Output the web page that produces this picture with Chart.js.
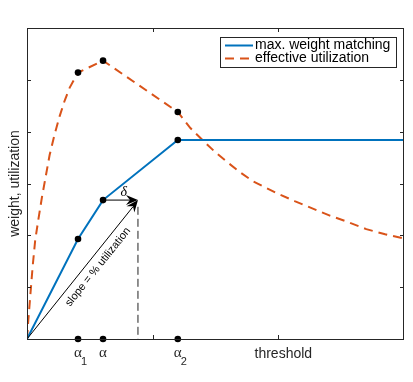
<!DOCTYPE html>
<html>
<head>
<meta charset="utf-8">
<script src="https://cdn.jsdelivr.net/npm/chart.js@4"></script>
<style>
  html, body { margin: 0; padding: 0; background: #fff; }
  #wrap { width: 413px; height: 382px; }
</style>
</head>
<body>
<div id="wrap"><canvas id="grafico" width="413" height="382"></canvas></div>
<script>
// Datos
const matchX = [0, 0.406, 0.605, 1.2, 3.0];
const matchY = [0, 1.93, 2.68, 3.84, 3.84];

const effX = [0, 0.01, 0.025, 0.045, 0.065, 0.09, 0.12, 0.15, 0.18, 0.22, 0.26, 0.30, 0.34, 0.406,
  0.605, 1.2, 1.30, 1.40, 1.50, 1.60, 1.70, 1.80, 1.90, 2.0, 2.13, 2.27, 2.41, 2.55, 2.70, 2.85, 3.0];
const effY = [0, 0.35, 0.8, 1.4, 1.9, 2.3, 2.75, 3.15, 3.55, 3.95, 4.3, 4.6, 4.85, 5.14,
  5.37, 4.38, 4.07, 3.83, 3.60, 3.40, 3.21, 3.04, 2.92, 2.80, 2.66, 2.52, 2.38, 2.26, 2.12, 2.02, 1.94];

// puntos alpha_1, alpha, alpha_2
const alphaX = [0.406, 0.605, 1.2];
const alphaEff = [5.14, 5.37, 4.38];
const alphaMatch = [1.93, 2.68, 3.84];
const alphaLabels = ["α", "α", "α"];
const alphaSubs = ["1", "", "2"];

// flecha de pendiente y delta
const arrowTip = { x: 0.883, y: 2.68 };
const dashTop = 2.55;

const xTicks = [1, 2];
const yTicks = [1, 2, 3, 4, 5];

const legendNames = ["max. weight matching", "effective utilization"];

const toPts = (xs, ys) => xs.map((x, i) => ({ x: x, y: ys[i] }));

const markerPts = []
  .concat(toPts(alphaX, alphaEff))
  .concat(toPts(alphaX, alphaMatch))
  .concat(alphaX.map((x) => ({ x: x, y: 0 })));

function arrowHead(ctx, x0, y0, x1, y1) {
  const ang = Math.atan2(y1 - y0, x1 - x0);
  const len = 12, w = 5, back = 8;
  ctx.save();
  ctx.translate(x1, y1);
  ctx.rotate(ang);
  ctx.beginPath();
  ctx.moveTo(0, 0);
  ctx.lineTo(-len, -w);
  ctx.lineTo(-back, 0);
  ctx.lineTo(-len, w);
  ctx.closePath();
  ctx.fillStyle = "#000";
  ctx.fill();
  ctx.restore();
}

// Dibujo de marco, ticks, textos y leyenda
const extras = {
  id: "extras",
  afterDatasetsDraw(chart) {
    const ctx = chart.ctx;
    const tip = {
      x: chart.scales.x.getPixelForValue(arrowTip.x),
      y: chart.scales.y.getPixelForValue(arrowTip.y),
    };
    [3, 4].forEach((i) => {
      const pts = chart.getDatasetMeta(i).data;
      arrowHead(ctx, pts[0].x, pts[0].y, tip.x, tip.y);
    });
  },
  afterDraw(chart) {
    const ctx = chart.ctx;
    const a = chart.chartArea;
    const xs = chart.scales.x, ys = chart.scales.y;
    ctx.save();
    ctx.strokeStyle = "#262626";
    ctx.lineWidth = 1;
    ctx.strokeRect(Math.round(a.left) + 0.5, Math.round(a.top) + 0.5,
      Math.round(a.right - a.left) - 1, Math.round(a.bottom - a.top));
    ctx.beginPath();
    xTicks.forEach((v) => {
      const px = Math.round(xs.getPixelForValue(v)) + 0.5;
      ctx.moveTo(px, a.bottom); ctx.lineTo(px, a.bottom - 4);
      ctx.moveTo(px, a.top); ctx.lineTo(px, a.top + 4);
    });
    yTicks.forEach((v) => {
      const py = Math.round(ys.getPixelForValue(v)) + 0.5;
      ctx.moveTo(a.left, py); ctx.lineTo(a.left + 4, py);
      ctx.moveTo(a.right, py); ctx.lineTo(a.right - 4, py);
    });
    ctx.stroke();

    // etiquetas de ejes
    ctx.fillStyle = "#262626";
    ctx.font = "14px 'Liberation Sans', Arial, sans-serif";
    ctx.textAlign = "center";
    ctx.textBaseline = "alphabetic";
    ctx.fillText("threshold", xs.getPixelForValue(2) + 5, 358);
    ctx.save();
    ctx.translate(19, (a.top + a.bottom) / 2);
    ctx.rotate(-Math.PI / 2);
    ctx.fillText("weight, utilization", 0, 0);
    ctx.restore();

    // alphas
    alphaX.forEach((v, i) => {
      const px = xs.getPixelForValue(v);
      ctx.font = "15px 'Liberation Serif', serif";
      ctx.textAlign = "center";
      ctx.fillText(alphaLabels[i], px, 357);
      if (alphaSubs[i]) {
        ctx.font = "11px 'Liberation Sans', Arial, sans-serif";
        ctx.textAlign = "left";
        ctx.fillText(alphaSubs[i], px + 3, 365);
      }
    });

    // delta
    ctx.fillStyle = "#000";
    ctx.font = "italic 14px 'Liberation Serif', serif";
    ctx.textAlign = "center";
    ctx.fillText("δ", xs.getPixelForValue(0.77), ys.getPixelForValue(2.86) + 5);

    // texto de pendiente
    const o = { x: xs.getPixelForValue(0), y: ys.getPixelForValue(0) };
    const t = { x: xs.getPixelForValue(arrowTip.x), y: ys.getPixelForValue(arrowTip.y) };
    const ang = Math.atan2(t.y - o.y, t.x - o.x);
    ctx.save();
    ctx.translate(98, 267);
    ctx.rotate(ang);
    ctx.font = "11px 'Liberation Sans', Arial, sans-serif";
    ctx.textBaseline = "middle";
    ctx.fillText("slope = % utilization", 0, 0);
    ctx.restore();

    // leyenda
    ctx.fillStyle = "#fff";
    ctx.fillRect(220, 37, 176, 30);
    ctx.strokeStyle = "#262626";
    ctx.strokeRect(220.5, 37.5, 176, 30);
    const cols = [chart.data.datasets[1], chart.data.datasets[2]];
    cols.forEach((ds, i) => {
      const y = 45.5 + i * 13;
      ctx.beginPath();
      ctx.strokeStyle = ds.borderColor;
      ctx.lineWidth = 2;
      ctx.setLineDash(ds.borderDash || []);
      ctx.moveTo(225, y); ctx.lineTo(253, y);
      ctx.stroke();
      ctx.setLineDash([]);
      ctx.fillStyle = "#000";
      ctx.font = "14px 'Liberation Sans', Arial, sans-serif";
      ctx.textAlign = "left";
      ctx.textBaseline = "middle";
      ctx.fillText(legendNames[i], 255, y);
    });
    ctx.restore();
  }
};

document.addEventListener("DOMContentLoaded", () => {
  const ctx = document.getElementById("grafico").getContext("2d");
  new Chart(ctx, {
    type: "scatter",
    data: {
      datasets: [
        {
          label: "puntos",
          data: markerPts,
          pointRadius: 3.3,
          pointBackgroundColor: "#000",
          pointBorderWidth: 0,
          clip: false,
          order: 0,
        },
        {
          label: legendNames[0],
          data: toPts(matchX, matchY),
          showLine: true,
          borderColor: "#0072BD",
          borderWidth: 2,
          pointRadius: 0,
          order: 2,
        },
        {
          label: legendNames[1],
          data: toPts(effX, effY),
          showLine: true,
          borderColor: "#D95319",
          borderDash: [9, 6],
          borderWidth: 2,
          pointRadius: 0,
          order: 3,
        },
        {
          label: "pendiente",
          data: [{ x: 0, y: 0 }, { x: arrowTip.x - 0.04, y: arrowTip.y - 0.13 }],
          showLine: true,
          borderColor: "#000",
          borderWidth: 1,
          pointRadius: 0,
          order: 1,
        },
        {
          label: "delta",
          data: [{ x: alphaX[1], y: arrowTip.y }, { x: arrowTip.x - 0.05, y: arrowTip.y }],
          showLine: true,
          borderColor: "#000",
          borderWidth: 1,
          pointRadius: 0,
          order: 1,
        },
        {
          label: "vertical",
          data: [{ x: arrowTip.x, y: dashTop }, { x: arrowTip.x, y: 0 }],
          showLine: true,
          borderColor: "#222",
          borderDash: [8, 4],
          borderWidth: 1,
          pointRadius: 0,
          order: 1,
        },
      ],
    },
    options: {
      responsive: false,
      animation: false,
      layout: { padding: { left: 27, right: 9, top: 28, bottom: 43 } },
      plugins: { legend: { display: false }, tooltip: { enabled: false } },
      scales: {
        x: { type: "linear", min: 0, max: 3, display: false },
        y: { type: "linear", min: 0, max: 6, display: false },
      },
    },
    plugins: [extras],
  });
});
</script>
</body>
</html>
